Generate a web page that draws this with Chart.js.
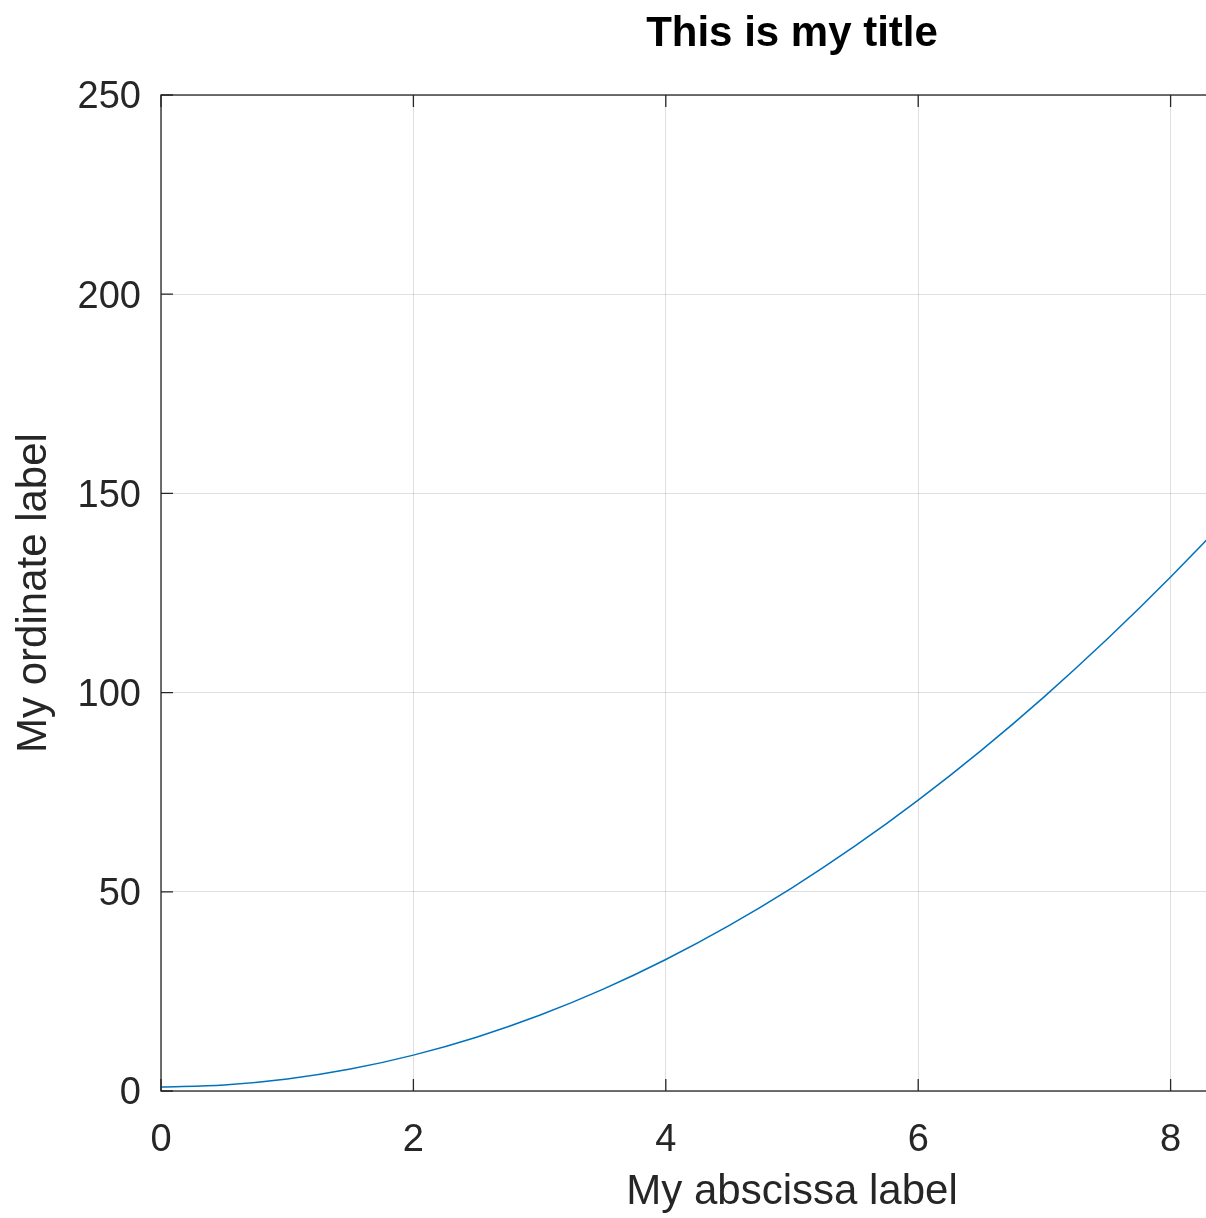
<!DOCTYPE html>
<html>
<head>
<meta charset="utf-8">
<script src="https://cdn.jsdelivr.net/npm/chart.js@4/dist/chart.umd.min.js"></script>
<style>
  html, body { margin: 0; padding: 0; background: #fff; }
  #wrap { width: 1206px; height: 1218px; overflow: hidden; position: relative; }
  canvas { display: block; }
</style>
</head>
<body>
<div id="wrap"><canvas id="plot" width="1584" height="1218"></canvas></div>
<script>
// data
const xValues = [0, 0.5, 1, 1.5, 2, 2.5, 3, 3.5, 4, 4.5, 5, 5.5, 6, 6.5, 7, 7.5, 8, 8.5, 9, 9.5, 10];
const yValues = [1, 1.5, 3, 5.5, 9, 13.5, 19, 25.5, 33, 41.5, 51, 61.5, 73, 85.5, 99, 113.5, 129, 145.5, 163, 181.5, 201];
const xTicks = [0, 2, 4, 6, 8, 10];
const yTicks = [0, 50, 100, 150, 200, 250];

const titleText = 'This is my title';
const xLabel = 'My abscissa label';
const yLabel = 'My ordinate label';

const FONT = "'Liberation Sans', Arial, Helvetica, sans-serif";
const AXIS_COLOR = '#262626';

// frame round the axes, inward tick marks and a title centred on the axes box
const framePlugin = {
  id: 'frame',
  afterDraw(chart) {
    const { ctx, chartArea: a, scales } = chart;
    const tl = 12;
    ctx.save();
    ctx.strokeStyle = AXIS_COLOR;
    ctx.lineWidth = 1.3;
    ctx.strokeRect(a.left, a.top, a.right - a.left, a.bottom - a.top);
    ctx.beginPath();
    xTicks.forEach(v => {
      const px = scales.x.getPixelForValue(v);
      ctx.moveTo(px, a.bottom); ctx.lineTo(px, a.bottom - tl);
      ctx.moveTo(px, a.top); ctx.lineTo(px, a.top + tl);
    });
    yTicks.forEach(v => {
      const py = scales.y.getPixelForValue(v);
      ctx.moveTo(a.left, py); ctx.lineTo(a.left + tl, py);
      ctx.moveTo(a.right, py); ctx.lineTo(a.right - tl, py);
    });
    ctx.stroke();

    ctx.fillStyle = '#000';
    ctx.font = 'bold 42px ' + FONT;
    ctx.textAlign = 'center';
    ctx.textBaseline = 'middle';
    ctx.fillText(titleText, (a.left + a.right) / 2, 34);
    ctx.restore();
  }
};

const points = xValues.map((x, i) => ({ x: x, y: yValues[i] }));

new Chart(document.getElementById('plot'), {
  type: 'line',
  data: {
    datasets: [{
      data: points,
      borderColor: '#0072bd',
      borderWidth: 1.5,
      pointRadius: 0,
      cubicInterpolationMode: 'monotone',
      fill: false
    }]
  },
  options: {
    responsive: false,
    animation: false,
    devicePixelRatio: 1,
    layout: { padding: { left: 0, right: 161, top: 95, bottom: 0 } },
    plugins: {
      legend: { display: false },
      tooltip: { enabled: false },
      title: { display: false }
    },
    scales: {
      x: {
        type: 'linear',
        min: 0, max: 10,
        afterFit(s) { s.height = 127; },
        afterBuildTicks(s) { s.ticks = xTicks.map(v => ({ value: v })); },
        grid: { color: 'rgba(38,38,38,0.15)', lineWidth: 1, drawTicks: false },
        border: { display: false },
        ticks: {
          color: AXIS_COLOR,
          font: { family: FONT, size: 38, lineHeight: 1.2 },
          padding: 27,
          maxRotation: 0,
          autoSkip: false
        },
        title: {
          display: true,
          text: xLabel,
          color: AXIS_COLOR,
          font: { family: FONT, size: 42, lineHeight: 1.2 },
          padding: { top: 0, bottom: 0 }
        }
      },
      y: {
        type: 'linear',
        min: 0, max: 250,
        afterFit(s) { s.width = 161; },
        afterBuildTicks(s) { s.ticks = yTicks.map(v => ({ value: v })); },
        grid: { color: 'rgba(38,38,38,0.15)', lineWidth: 1, drawTicks: false },
        border: { display: false },
        ticks: {
          color: AXIS_COLOR,
          font: { family: FONT, size: 38, lineHeight: 1.2 },
          padding: 20,
          labelOffset: 3,
          autoSkip: false
        },
        title: {
          display: true,
          text: yLabel,
          color: AXIS_COLOR,
          font: { family: FONT, size: 42, lineHeight: 1.2 },
          padding: { top: 9, bottom: 0 }
        }
      }
    }
  },
  plugins: [framePlugin]
});
</script>
</body>
</html>
